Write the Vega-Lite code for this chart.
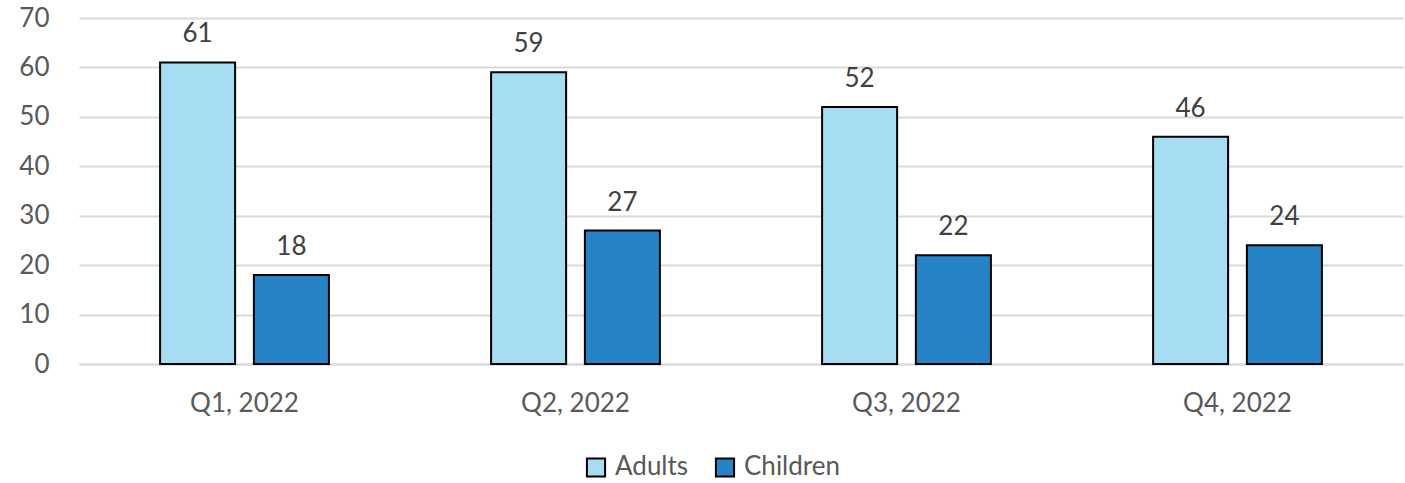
{
  "$schema": "https://vega.github.io/schema/vega-lite/v6.json",
  "autosize": {"type": "none"},
  "padding": {"left": 79, "top": 18, "right": 2, "bottom": 119},
  "width": 1324,
  "height": 346,
  "background": "white",
  "config": {
    "font": "Lato",
    "view": {"stroke": null}
  },
  "data": {
    "values": [
      {"quarter": "Q1, 2022", "group": "Adults", "value": 61},
      {"quarter": "Q1, 2022", "group": "Children", "value": 18},
      {"quarter": "Q2, 2022", "group": "Adults", "value": 59},
      {"quarter": "Q2, 2022", "group": "Children", "value": 27},
      {"quarter": "Q3, 2022", "group": "Adults", "value": 52},
      {"quarter": "Q3, 2022", "group": "Children", "value": 22},
      {"quarter": "Q4, 2022", "group": "Adults", "value": 46},
      {"quarter": "Q4, 2022", "group": "Children", "value": 24}
    ]
  },
  "encoding": {
    "x": {
      "field": "quarter", "type": "nominal",
      "scale": {"paddingInner": 0.49, "paddingOuter": 0.245},
      "axis": {
        "title": null, "labelAngle": 0, "ticks": false, "domain": true,
        "domainColor": "#D9D9D9", "domainWidth": 2,
        "labelFontSize": 26, "labelColor": "#595959", "labelPadding": 26
      }
    },
    "xOffset": {
      "field": "group", "type": "nominal",
      "scale": {"paddingInner": 0.2, "paddingOuter": 0}
    },
    "y": {
      "field": "value", "type": "quantitative",
      "scale": {"domain": [0, 70], "nice": false},
      "axis": {
        "title": null, "values": [0, 10, 20, 30, 40, 50, 60, 70],
        "domain": false, "ticks": false, "grid": true,
        "gridColor": "#D9D9D9", "gridWidth": 2,
        "labelFontSize": 26, "labelColor": "#595959", "labelPadding": 30
      }
    }
  },
  "layer": [
    {
      "mark": {"type": "bar", "stroke": "black", "strokeWidth": 2},
      "encoding": {
        "color": {
          "field": "group", "type": "nominal",
          "scale": {"domain": ["Adults", "Children"], "range": ["#A6DDF3", "#2683C6"]},
          "legend": {
            "title": null, "orient": "none", "direction": "horizontal",
            "legendX": 504, "legendY": 436,
            "symbolType": "square", "symbolSize": 330, "symbolStrokeColor": "black",
            "symbolStrokeWidth": 2, "symbolOpacity": 1,
            "labelFontSize": 26, "labelColor": "#595959", "labelOffset": 6,
            "columnPadding": 22
          }
        }
      }
    },
    {
      "mark": {"type": "text", "baseline": "alphabetic", "dy": -20, "fontSize": 26, "color": "#404040"},
      "encoding": {
        "text": {"field": "value", "type": "quantitative"}
      }
    }
  ]
}
